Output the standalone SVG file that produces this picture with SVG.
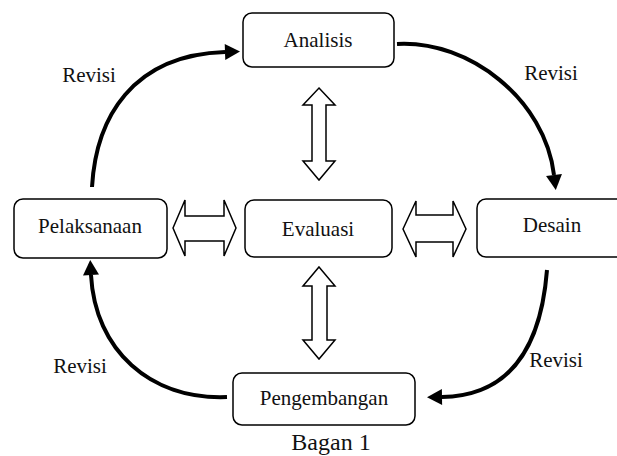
<svg xmlns="http://www.w3.org/2000/svg" width="617" height="456" viewBox="0 0 617 456">
<style>
.box{fill:#fff;stroke:#000;stroke-width:1.5}
.lbl{font-family:"Liberation Serif","Times New Roman",serif;font-size:21px;fill:#111;text-anchor:middle}
.conn{fill:none;stroke:#000;stroke-width:4}
.dbl{fill:#fff;stroke:#000;stroke-width:1.5;stroke-linejoin:miter}
</style>
<defs>
<marker id="ah" markerUnits="userSpaceOnUse" markerWidth="16" markerHeight="16" refX="0" refY="8" orient="auto" overflow="visible">
<path d="M0,0 L15,8 L0,16 z" fill="#000"/>
</marker>
</defs>
<rect width="617" height="456" fill="#fff"/>
<g id="connectors">
<path class="conn" d="M92,187 C96,118 132,55 225,52" marker-end="url(#ah)"/>
<path class="conn" d="M397,44 C470,40 545,100 554,175" marker-end="url(#ah)"/>
<path class="conn" d="M547,270 C540,360 500,396 442,397" marker-end="url(#ah)"/>
<path class="conn" d="M227,397 C150,400 95,350 91,275" marker-end="url(#ah)"/>
<polygon class="dbl" points="319,88 335,105 326,105 326,161 335,161 319,180 303,161 312,161 312,105 303,105"/>
<polygon class="dbl" points="319,267 335,286 327,286 327,340 335,340 319,359 303,340 312,340 312,286 303,286"/>
<polygon class="dbl" points="173,228 185,200 185,216 224,216 224,200 236,228 224,256 224,241 185,241 185,256"/>
<polygon class="dbl" points="403,229 416,201 416,215 453,215 453,201 466,229 453,257 453,242 416,242 416,257"/>
<text class="lbl" x="89" y="82">Revisi</text>
<text class="lbl" x="551" y="80">Revisi</text>
<text class="lbl" x="80" y="373">Revisi</text>
<text class="lbl" x="556" y="367">Revisi</text>
</g>
<g id="analisis">
<rect class="box" x="243" y="13" width="151" height="54" rx="9"/>
<text class="lbl" x="318" y="47">Analisis</text>
</g>
<g id="pelaksanaan">
<rect class="box" x="14" y="199" width="153" height="59" rx="9"/>
<text class="lbl" x="90" y="233">Pelaksanaan</text>
</g>
<g id="evaluasi">
<rect class="box" x="245" y="200" width="147" height="57" rx="9"/>
<text class="lbl" x="318" y="236">Evaluasi</text>
</g>
<g id="desain">
<rect class="box" x="477" y="199" width="160" height="58" rx="9"/>
<text class="lbl" x="552" y="232">Desain</text>
</g>
<g id="pengembangan">
<rect class="box" x="233" y="373" width="182" height="52" rx="9"/>
<text class="lbl" x="324" y="405">Pengembangan</text>
</g>
<text class="lbl" x="331" y="450" style="font-size:24px">Bagan 1</text>
</svg>
